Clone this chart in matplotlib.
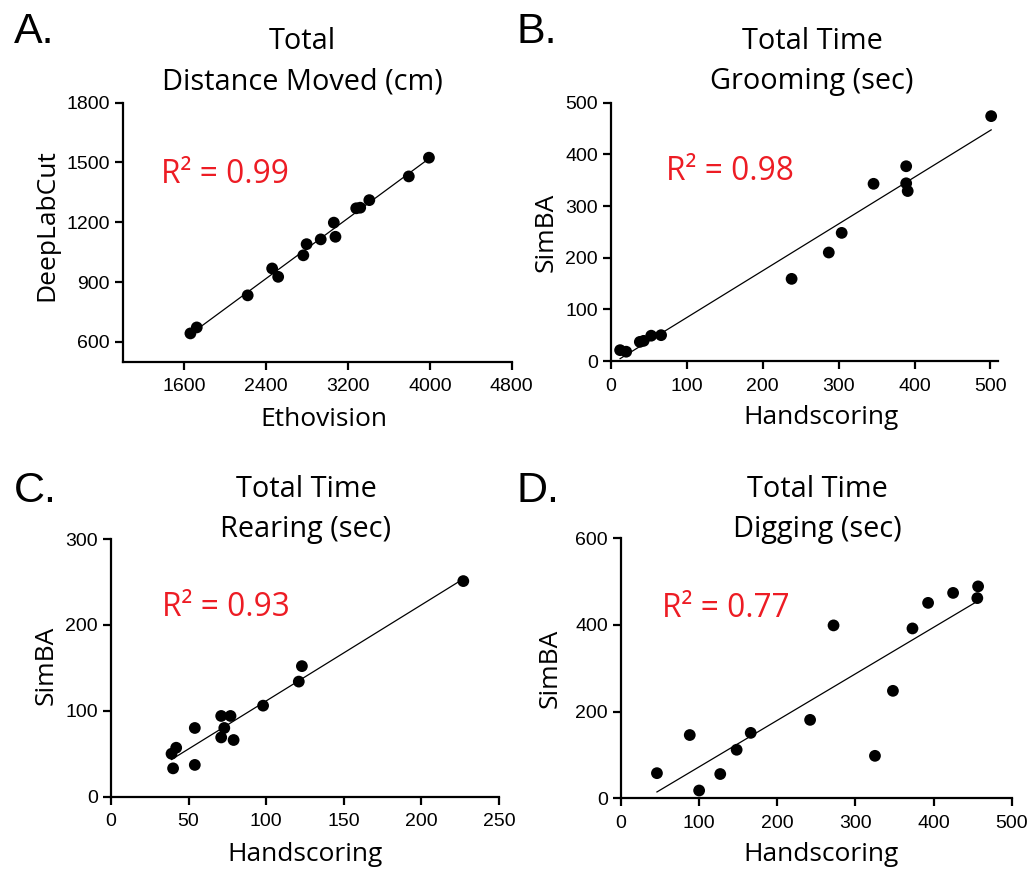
import matplotlib.pyplot as plt
import numpy as np

# Values
dist_etho = [1659, 1721, 2219, 2458, 2517, 2763, 2795, 2933, 3061, 3077, 3280, 3319, 3408, 3794, 3991]
dist_dlc = [642, 672, 833, 968, 926, 1034, 1090, 1114, 1198, 1127, 1270, 1273, 1311, 1430, 1524]

groom_hand = [12, 20, 38, 43, 53, 66, 238, 287, 304, 346, 389, 389, 391, 501]
groom_simba = [21, 18, 37, 39, 49, 50, 159, 210, 248, 343, 377, 344, 329, 474]

rear_hand = [39, 42, 40, 54, 54, 71, 77, 73, 71, 79, 98, 121, 123, 227]
rear_simba = [50, 57, 33, 37, 80, 94, 94, 80, 69, 66, 106, 134, 152, 251]

dig_hand = [46, 88, 100, 127, 148, 166, 242, 272, 325, 348, 373, 393, 425, 457, 456]
dig_simba = [58, 146, 18, 56, 112, 151, 181, 399, 98, 248, 392, 451, 474, 489, 462]

letters = ["A.", "B.", "C.", "D."]
titles = [("Total", "Distance Moved (cm)"), ("Total Time", "Grooming (sec)"),
          ("Total Time", "Rearing (sec)"), ("Total Time", "Digging (sec)")]
xlabels = ["Ethovision", "Handscoring", "Handscoring", "Handscoring"]
ylabels = ["DeepLabCut", "SimBA", "SimBA", "SimBA"]
r2_labels = ["R\u00b2 = 0.99", "R\u00b2 = 0.98", "R\u00b2 = 0.93", "R\u00b2 = 0.77"]
xticks = [[1600, 2400, 3200, 4000, 4800], [0, 100, 200, 300, 400, 500],
          [0, 50, 100, 150, 200, 250], [0, 100, 200, 300, 400, 500]]
yticks = [[600, 900, 1200, 1500, 1800], [0, 100, 200, 300, 400, 500],
          [0, 100, 200, 300], [0, 200, 400, 600]]
xlims = [(1000, 4800), (0, 510), (0, 250), (0, 500)]
ylims = [(500, 1800), (0, 500), (0, 300), (0, 600)]

W, H = 1034, 869
RED = "#ED1C24"
TXT_FONT = ["Open Sans", "DejaVu Sans"]
TICK_FONT = ["Liberation Sans", "DejaVu Sans"]


def fx(x):
    return x / W


def fy(y):
    return 1 - y / H


# layout in pixels: axes box (left, top, right, bottom), then text anchors
boxes = [(123, 102.7, 511.7, 361.7), (611, 102.7, 998, 361),
         (111, 539, 499, 796.7), (621, 538.3, 1011.7, 798.3)]
letter_pos = [(14, 43), (516, 43), (14, 502), (516, 502)]
title_pos = [(302, 49, 89), (812, 49, 89), (306, 497, 537), (817, 497, 537)]
r2_pos = [(161, 183), (666, 180.5), (162, 616.5), (662, 617)]
xlab_pos = [(324, 426.5), (821, 424.5), (305, 861), (821, 861)]
ylab_pos = [(53, 225), (553, 232), (53, 665), (557, 668)]

fig = plt.figure(figsize=(W / 100, H / 100), dpi=100)

panels = [(dist_etho, dist_dlc), (groom_hand, groom_simba),
          (rear_hand, rear_simba), (dig_hand, dig_simba)]

for i, (xs, ys) in enumerate(panels):
    l, t, r, b = boxes[i]
    ax = fig.add_axes([fx(l), fy(b), (r - l) / W, (b - t) / H])
    ax.set_xlim(*xlims[i])
    ax.set_ylim(*ylims[i])

    # linear fit across the data range
    xs = np.array(xs, dtype=float)
    ys = np.array(ys, dtype=float)
    k, c = np.polyfit(xs, ys, 1)
    xx = np.array([xs.min(), xs.max()])
    ax.plot(xx, k * xx + c, color="black", lw=0.9, zorder=2)
    ax.scatter(xs, ys, s=72, color="black", edgecolors="none", zorder=3,
               clip_on=False)

    for side in ["top", "right"]:
        ax.spines[side].set_visible(False)
    for side in ["left", "bottom"]:
        ax.spines[side].set_linewidth(1.6)
    ax.set_xticks(xticks[i])
    ax.set_yticks(yticks[i])
    ax.tick_params(axis="both", direction="out", length=6, width=1.6,
                   labelsize=14)
    ax.tick_params(axis="x", pad=6)
    ax.tick_params(axis="y", pad=3.5)
    for lab in ax.get_xticklabels() + ax.get_yticklabels():
        lab.set_family(TICK_FONT)

    ax.set_xlabel(xlabels[i], family=TXT_FONT, fontsize=19, va="baseline")
    ax.xaxis.set_label_coords(fx(xlab_pos[i][0]), fy(xlab_pos[i][1]),
                              transform=fig.transFigure)
    ax.set_ylabel(ylabels[i], family=TXT_FONT, fontsize=19, va="baseline")
    ax.yaxis.set_label_coords(fx(ylab_pos[i][0]), fy(ylab_pos[i][1]),
                              transform=fig.transFigure)

    # two-line title
    tx, b1, b2 = title_pos[i]
    fig.text(fx(tx), fy(b1), titles[i][0], family=TXT_FONT, fontsize=20.8,
             ha="center", va="baseline")
    fig.text(fx(tx), fy(b2), titles[i][1], family=TXT_FONT, fontsize=20.8,
             ha="center", va="baseline")

    fig.text(fx(r2_pos[i][0]), fy(r2_pos[i][1]), r2_labels[i], family=TXT_FONT,
             fontsize=22.8, color=RED, ha="left", va="baseline")
    fig.text(fx(letter_pos[i][0]), fy(letter_pos[i][1]), letters[i],
             family=TICK_FONT, fontsize=31, ha="left", va="baseline")

fig.savefig("out.png", dpi=100)
